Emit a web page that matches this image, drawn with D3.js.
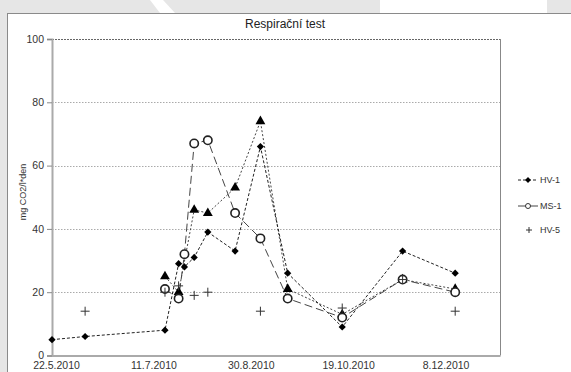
<!DOCTYPE html>
<html>
<head>
<meta charset="utf-8">
<script src="https://cdn.jsdelivr.net/npm/d3@7"></script>
<style>
  body { margin:0; background:#e6e6e6; }
  svg { display:block; font-family:"Liberation Sans", Arial, sans-serif; }
</style>
</head>
<body>
<svg id="chart" width="571" height="372"></svg>
<script>
// dates of the sampling
var dates = ["2010-05-22","2010-06-08","2010-07-19","2010-07-26","2010-07-29","2010-08-03","2010-08-10","2010-08-24","2010-09-06","2010-09-20","2010-10-18","2010-11-18","2010-12-15"];
// values per series (null = no value)
var hv1 = [5, 6, 8, 29, 28, 31, 39, 33, 66, 26, 9, 33, 26];
var ms1 = [null, null, 21, 18, 32, 67, 68, 45, 37, 18, 12, 24, 20];
var hv5 = [null, 14, 20, 22, null, 19, 20, null, 14, null, 15, 24, 14];
var tri = [null, null, 25, 20, null, 46, 45, 53, 74, 21, 13, 24, 21];
var xTicks = ["2010-05-22","2010-07-11","2010-08-30","2010-10-19","2010-12-08"];
var yTicks = [0, 20, 40, 60, 80, 100];
var legendNames = ["HV-1", "MS-1", "HV-5"];

var parse = d3.timeParse("%Y-%m-%d");
var fmt = d3.timeFormat("%-d.%-m.%Y");
var svg = d3.select("#chart");
var diamond = "M0,-3.6L3.6,0L0,3.6L-3.6,0Z";

// background + watermark bits
svg.append("rect").attr("width",571).attr("height",372).attr("fill","#e6e6e6");
svg.append("polygon").attr("points","150,0 163,0 175,13 160,13").attr("fill","#fff");
svg.append("rect").attr("x",380).attr("y",0).attr("width",167).attr("height",13).attr("fill","#fff");
svg.append("rect").attr("x",7.5).attr("y",13.5).attr("width",580).attr("height",380)
  .attr("fill","#fff").attr("stroke","#8a8a8a");

var pLeft = 52, pTop = 39, pRight = 500, pBottom = 355.5;
var x = d3.scaleTime().domain([parse("2010-05-22"), parse("2011-01-07")]).range([pLeft, pRight]);
var y = d3.scaleLinear().domain([0,100]).range([pBottom, pTop]);

// grid
svg.append("g").selectAll("line").data(yTicks.filter(function(d){return d>0;})).enter()
  .append("line")
  .attr("x1",pLeft).attr("x2",pRight)
  .attr("y1",function(d){return Math.round(y(d))+0.5;}).attr("y2",function(d){return Math.round(y(d))+0.5;})
  .attr("stroke", function(d){ return d==100 ? "#666" : "#aaa"; })
  .attr("stroke-dasharray", function(d){ return d==100 ? "2,1" : "1.5,1.5"; });

svg.append("line").attr("x1",pRight+0.5).attr("x2",pRight+0.5).attr("y1",pTop).attr("y2",pBottom)
  .attr("stroke","#888");

// axes
var yAxis = d3.axisLeft(y).tickValues(yTicks).tickSize(5).tickPadding(3);
var gy = svg.append("g").attr("transform","translate("+pLeft+",0)").call(yAxis);
gy.select(".domain").attr("stroke","#aaa").attr("stroke-width",2);
gy.selectAll(".tick line").attr("stroke","#888");
gy.selectAll("text").attr("font-size",10.5).attr("fill","#333");

var xAxis = d3.axisBottom(x).tickValues(xTicks.map(parse)).tickFormat(fmt).tickSize(0).tickPadding(6);
var gx = svg.append("g").attr("transform","translate(0,"+pBottom+")").call(xAxis);
gx.select(".domain").attr("stroke","#aaa").attr("stroke-width",2);
gx.selectAll("text").attr("font-size",10.5).attr("fill","#333").attr("dx",4);

svg.append("text").attr("x",285).attr("y",28).attr("text-anchor","middle")
  .attr("font-size",12).attr("fill","#222").text("Respirační test");
svg.append("text").attr("transform","translate(26,192) rotate(-90)").attr("text-anchor","middle")
  .attr("font-size",9).attr("fill","#333").text("mg CO2/l*den");

function pts(vals) {
  return dates.map(function(d,i){ return {d: parse(d), v: vals[i]}; })
    .filter(function(p){ return p.v !== null; });
}
var line = d3.line().x(function(p){return x(p.d);}).y(function(p){return y(p.v);});

var series = [
  {vals: tri, dash: "2,2", color:"#444", shape: d3.symbol().type(d3.symbolTriangle).size(42)(), fill:"#000"},
  {vals: hv1, dash: "3,2", color:"#222", shape: diamond, fill:"#000"},
  {vals: ms1, dash: "8,4", color:"#444", shape: d3.symbol().type(d3.symbolCircle).size(55)(), fill:"#fff"}
];

series.forEach(function(s){
  svg.append("path").datum(pts(s.vals)).attr("d", line)
    .attr("fill","none").attr("stroke",s.color).attr("stroke-width",1)
    .attr("stroke-dasharray",s.dash);
});
series.forEach(function(s){
  svg.append("g").selectAll("path").data(pts(s.vals)).enter().append("path")
    .attr("transform",function(p){ return "translate("+x(p.d)+","+y(p.v)+")"; })
    .attr("d", s.shape)
    .attr("fill", s.fill).attr("stroke", s.fill=="#fff" ? "#222" : "none")
    .attr("stroke-width", 1.6);
});

// HV-5 plus markers
svg.append("g").selectAll("path").data(pts(hv5)).enter().append("path")
  .attr("transform",function(p){ return "translate("+x(p.d)+","+y(p.v)+")"; })
  .attr("d","M-4.5,0H4.5M0,-4.5V4.5").attr("stroke","#333").attr("stroke-width",1);

// legend
var lg = svg.append("g");
var ly = [180, 206, 230];
lg.append("line").attr("x1",518).attr("x2",538).attr("y1",ly[0]).attr("y2",ly[0])
  .attr("stroke","#222").attr("stroke-dasharray","3,2");
lg.append("path").attr("transform","translate(528,"+ly[0]+") scale(0.8)")
  .attr("d", diamond).attr("fill","#000");
lg.append("line").attr("x1",518).attr("x2",538).attr("y1",ly[1]).attr("y2",ly[1])
  .attr("stroke","#444").attr("stroke-dasharray","8,4");
lg.append("circle").attr("cx",528).attr("cy",ly[1]).attr("r",2.5)
  .attr("fill","#fff").attr("stroke","#333");
lg.append("path").attr("transform","translate(529,"+ly[2]+")")
  .attr("d","M-3,0H3M0,-3V3").attr("stroke","#333");
lg.selectAll("text").data(legendNames).enter().append("text")
  .attr("x",540).attr("y",function(d,i){return ly[i]+3;})
  .attr("font-size",9).attr("fill","#333").text(function(d){return d;});
</script>
</body>
</html>
